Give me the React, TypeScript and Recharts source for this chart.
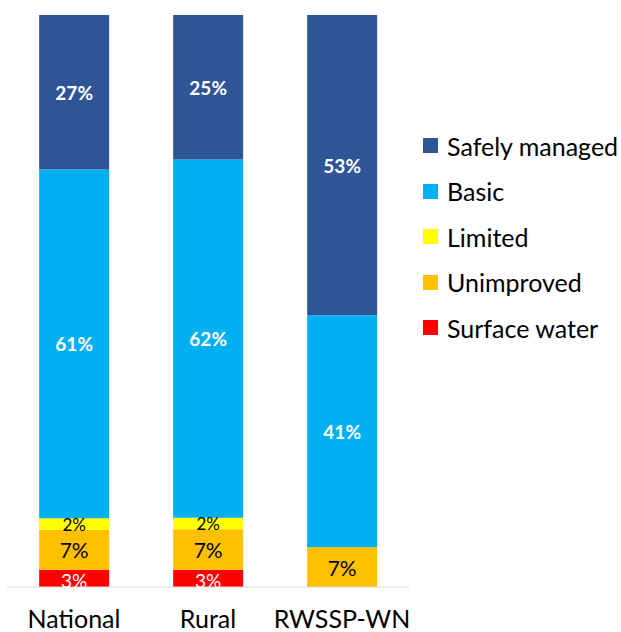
import { BarChart, Bar, XAxis, YAxis, LabelList } from "recharts";

const categories = ["National", "Rural", "RWSSP-WN"];
const surfaceWater = [3, 3, 0];
const unimproved = [7, 7, 7];
const limited = [2, 2, 0];
const basic = [61, 62, 41];
const safelyManaged = [27, 25, 53];

const data = categories.map((name, i) => ({
    name,
    surface: surfaceWater[i],
    unimproved: unimproved[i],
    limited: limited[i],
    basic: basic[i],
    safely: safelyManaged[i],
}));

// bottom to top
const series = [
    { key: "surface", label: "Surface water", color: "#FF0000", text: "#FFFFFF", size: 19, weight: 400 },
    { key: "unimproved", label: "Unimproved", color: "#FFC000", text: "#000000", size: 21, weight: 400 },
    { key: "limited", label: "Limited", color: "#FFFF00", text: "#000000", size: 17, weight: 400 },
    { key: "basic", label: "Basic", color: "#00B0F0", text: "#FFFFFF", size: 19, weight: 700 },
    { key: "safely", label: "Safely managed", color: "#2F5597", text: "#FFFFFF", size: 19, weight: 700 },
];

const FONT = "Lato, 'Noto Sans', sans-serif";

function makeLabel(s: (typeof series)[number]) {
    return (props: any) => {
        const { x, y, width, height, value } = props;
        if (!value) return null;
        return (
            <text
                x={x + width / 2}
                y={y + height / 2 + (s.key === "surface" ? 2 : 0)}
                textAnchor="middle"
                dominantBaseline="central"
                fill={s.text}
                fontSize={s.size}
                fontWeight={s.weight}
                fontFamily={FONT}
            >
                {`${value}%`}
            </text>
        );
    };
}

function LegendBox() {
    return (
        <div style={{ position: "absolute", left: 423, top: 123, fontFamily: FONT, fontSize: 25, color: "#000" }}>
            {[...series].reverse().map((s) => (
                <div key={s.key} style={{ display: "flex", alignItems: "center", height: 45.5 }}>
                    <span style={{ width: 15, height: 15, background: s.color, display: "inline-block", marginRight: 9, flexShrink: 0 }} />
                    <span style={{ whiteSpace: "nowrap" }}>{s.label}</span>
                </div>
            ))}
        </div>
    );
}

export default function App() {
    return (
        <div style={{ width: 621, height: 632, background: "#fff", position: "relative", overflow: "hidden" }}>
            <style>{`body{margin:0}`}</style>
            <BarChart
                width={621}
                height={632}
                data={data}
                stackOffset="expand"
                barCategoryGap="24%"
                margin={{ top: 15, right: 212, left: 7, bottom: 0 }}
            >
                <XAxis
                    dataKey="name"
                    height={45}
                    tickLine={false}
                    axisLine={{ stroke: "#D9D9D9" }}
                    tickMargin={17}
                    tick={{ fontSize: 25, fill: "#000", fontFamily: FONT }}
                />
                <YAxis hide domain={[0, 1]} />
                {series.map((s) => (
                    <Bar key={s.key} dataKey={s.key} stackId="a" fill={s.color} isAnimationActive={false}>
                        <LabelList dataKey={s.key} content={makeLabel(s)} />
                    </Bar>
                ))}
            </BarChart>
            <LegendBox />
        </div>
    );
}
